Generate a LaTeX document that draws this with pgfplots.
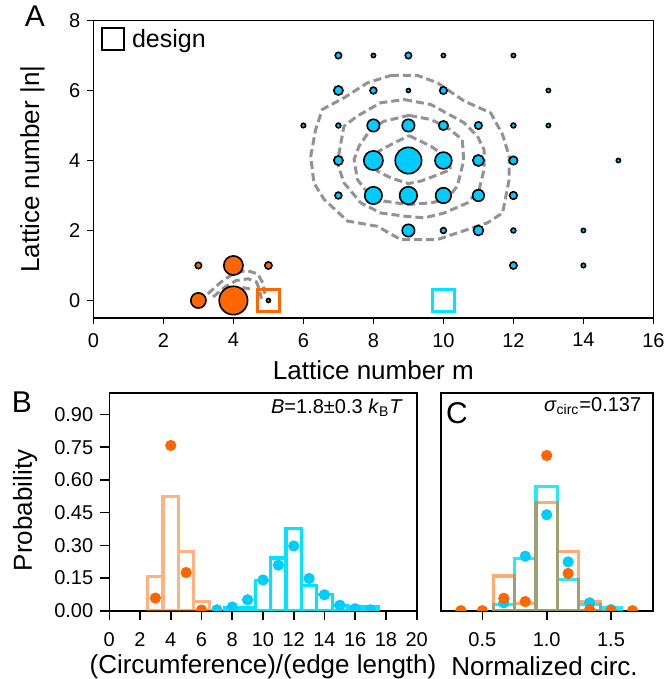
\documentclass[border=0pt]{standalone}
\usepackage{pgfplots}
\usepackage{pgfplotstable}
\pgfplotsset{compat=1.18}
\usepackage{fontspec}
\setmainfont{Liberation Sans}

\definecolor{cyanM}{RGB}{0,204,255}
\definecolor{cyanB}{RGB}{0,229,255}
\definecolor{orangeM}{RGB}{255,102,0}
\definecolor{contourgray}{RGB}{128,128,128}

% panel A: lattice points (m, n, marker radius in pt)
\pgfplotstableread{
m n r
7 7 1.6
8 7 1.05
9 7 1.6
10 7 1.05
12 7 1.05
7 6 2.3
8 6 1.7
9 6 1.0
10 6 1.85
13 6 1.05
6 5 1.1
7 5 1.2
8 5 3.1
9 5 3.1
10 5 2.35
11 5 1.85
12 5 1.2
13 5 1.05
7 4 2.3
8 4 4.8
9 4 6.6
10 4 4.2
11 4 2.8
12 4 2.1
15 4 1.05
7 3 1.7
8 3 4.35
9 3 4.4
10 3 3.9
11 3 2.9
12 3 1.9
9 2 3.1
10 2 1.45
11 2 2.5
12 2 1.2
14 2 1.05
12 1 1.8
14 1 1.1
}\cyanpts

\pgfplotstableread{
m n r
3 1 1.6
4 1 4.8
5 1 1.8
3 0 3.8
4 0 7.1
5 0 1.0
}\orangepts

% panel B: ring size histograms
\pgfplotstableread{
x p
3 0.156
4 0.523
5 0.270
6 0.042
}\orangeBbars
\pgfplotstableread{
x p
3 0.058
4 0.758
5 0.175
6 0.003
}\orangeBdots
\pgfplotstableread{
x p
8 0.012
9 0.015
10 0.138
11 0.242
12 0.376
13 0.115
14 0.073
15 0.023
16 0.017
17 0.017
}\cyanBbars
\pgfplotstableread{
x p
7 0.004
8 0.017
9 0.050
10 0.141
11 0.209
12 0.297
13 0.148
14 0.073
15 0.025
16 0.009
17 0.004
}\cyanBdots

% panel C: normalized circumference
\pgfplotstableread{
x p
0.6667 0.159
0.8333 0.032
1.0 0.497
1.1667 0.270
1.3333 0.042
}\orangeCbars
\pgfplotstableread{
x p
0.3333 0.0
0.5 0.0
0.6667 0.057
0.8333 0.042
1.0 0.712
1.1667 0.171
1.3333 0.005
1.5 0.0
1.6667 0.0
}\orangeCdots
\pgfplotstableread{
x p
0.6667 0.030
0.8333 0.240
1.0 0.568
1.1667 0.144
1.3333 0.030
1.5 0.012
}\cyanCbars
\pgfplotstableread{
x p
0.6667 0.036
0.8333 0.250
1.0 0.440
1.1667 0.224
1.3333 0.036
1.5 0.005
}\cyanCdots

\pgfplotsset{
  every axis/.append style={
    scale only axis,
    axis line style={line width=0.8pt},
    every tick/.append style={black, line width=0.8pt},
    tick align=outside,
    tick pos=left,
    /pgf/number format/assume math mode=true,
    tick label style={font=\fontsize{10}{12}\selectfont},
    label style={font=\fontsize{13}{15}\selectfont},
  },
  contourline/.style={contourgray, line width=1.5pt, dash pattern=on 4pt off 2pt, opacity=0.85},
  lattice/.style={scatter, only marks, mark=*, line width=0.8pt,
    scatter/use mapped color={draw=black, fill=#1},
    visualization depends on={\thisrow{r} \as \rad},
    scatter/@pre marker code/.append style={/tikz/mark size=\rad}},
}

\begin{document}
\begin{tikzpicture}
\path[use as bounding box] (0,0) rectangle (334pt,-339.5pt);

% ---------------- A ----------------
\begin{axis}[
  at={(46.7pt,-10.25pt)}, anchor=north west,
  width=280pt, height=148.75pt,
  xmin=0, xmax=16, ymin=-0.5, ymax=8,
  xtick={0,2,...,16}, ytick={0,2,...,8},
  major tick length=3pt,
  xticklabel style={yshift=-1pt},
  xlabel={Lattice number m},
  ylabel={Lattice number |n|},
  xlabel style={at={(axis description cs:0.5,-0.177)}, anchor=center},
  ylabel style={at={(axis description cs:-0.109,0.5)}, anchor=center},
  legend style={at={(axis description cs:0.004,1.0)}, anchor=north west,
    draw=none, fill=none, font=\fontsize{12.5}{14}\selectfont,
    /tikz/every odd column/.append style={column sep=2pt}},
  clip=false,
]
\addlegendimage{only marks, mark=square, mark size=5.5pt, black, line width=1pt}
\addlegendentry{design}

\addplot[lattice=cyanM] table[x=m, y=n, meta=r] {\cyanpts};
\addplot[lattice=orangeM] table[x=m, y=n, meta=r] {\orangepts};

% design squares
\addplot[only marks, mark=square, mark size=5.5pt, cyanB, line width=1.2pt]
  coordinates {(10,0)};
\addplot[only marks, mark=square, mark size=5.5pt, orangeM, line width=1.2pt]
  coordinates {(5,0)};

% contours around the cyan distribution
\addplot[contourline] coordinates {
(8.50,6.43) (9.26,6.43) (9.83,6.22) (10.59,5.70) (11.35,5.36) (11.69,4.74)
(11.88,4.12) (11.88,3.46) (11.69,2.50) (11.26,2.22) (10.40,1.93) (9.83,1.74)
(8.78,1.74) (8.11,2.12) (7.26,2.27) (6.59,2.89) (6.30,3.36) (6.21,4.12)
(6.35,4.89) (6.54,5.46) (7.16,5.79) (7.83,6.22) (8.50,6.43)};
\addplot[contourline] coordinates {
(8.88,5.74) (9.64,5.60) (10.59,5.08) (10.97,4.70) (11.16,4.31) (11.16,3.74)
(11.02,3.17) (10.69,2.79) (10.02,2.50) (9.45,2.36) (8.88,2.41) (8.21,2.50)
(7.64,2.79) (7.16,3.36) (6.97,3.93) (7.07,4.50) (7.16,4.98) (7.54,5.27)
(8.21,5.65) (8.88,5.74)};
\addplot[contourline] coordinates {
(9.02,5.29) (9.64,5.17) (10.10,4.95) (10.54,4.60) (10.58,4.00) (10.40,3.27)
(10.10,2.89) (9.64,2.79) (9.00,2.74) (8.30,2.84) (7.83,3.08) (7.54,3.46)
(7.45,4.03) (7.59,4.41) (7.92,4.89) (8.30,5.12) (9.02,5.29)};
\addplot[contourline] coordinates {
(9.02,4.71) (9.64,4.41) (10.11,4.08) (10.21,3.74) (9.73,3.55) (9.35,3.41)
(9.00,3.34) (8.50,3.50) (8.11,3.70) (7.92,4.03) (8.16,4.27) (8.59,4.50)
(9.02,4.71)};
% contours around the orange distribution
\addplot[contourline] coordinates {
(3.27,0.19) (3.65,0.53) (3.99,0.76) (4.37,0.86) (4.70,0.76) (4.85,0.48) (4.90,0.19)};
\addplot[contourline] coordinates {
(3.42,0.10) (3.75,0.38) (4.08,0.57) (4.42,0.62) (4.66,0.53) (4.75,0.29) (4.80,0.05)};
\addplot[contourline] coordinates {
(3.65,0.10) (3.89,0.29) (4.18,0.38) (4.47,0.33)};
\end{axis}

% ---------------- B ----------------
\begin{axis}[
  at={(54.65pt,-196.35pt)}, anchor=north west,
  width=153.7pt, height=109pt,
  xmin=0, xmax=20, ymin=0, ymax=1.0,
  xtick={0,2,...,20}, ytick={0,0.15,0.3,0.45,0.6,0.75,0.9},
  yticklabel style={/pgf/number format/.cd, fixed, fixed zerofill, precision=2},
  xticklabel style={yshift=-3pt},
  major tick length=4.5pt,
  xlabel={(Circumference)/(edge length)},
  ylabel={Probability},
  xlabel style={at={(axis description cs:0.5,-0.256)}, anchor=center},
  ylabel style={at={(axis description cs:-0.274,0.46)}, anchor=center},
  clip marker paths=true,
]
\addplot[ybar, bar width=1, bar shift=0pt, draw=cyanB, fill=none, line width=1.6pt]
  table[x=x, y=p] {\cyanBbars};
\addplot[ybar, bar width=1, bar shift=0pt, draw=orangeM, draw opacity=0.5, fill=none, line width=1.6pt]
  table[x=x, y=p] {\orangeBbars};
\addplot[only marks, mark=*, mark size=2.6pt, cyanM]
  table[x=x, y=p] {\cyanBdots};
\addplot[only marks, mark=*, mark size=2.6pt, orangeM]
  table[x=x, y=p] {\orangeBdots};
\node[anchor=east, font=\fontsize{10}{12}\selectfont] at (axis description cs:0.978,0.931)
  {\textit{B}=1.8±0.3 \textit{k}\textsubscript{B}\textit{T}};
\end{axis}

% ---------------- C ----------------
\begin{axis}[
  at={(220.35pt,-196.35pt)}, anchor=north west,
  width=106pt, height=109pt,
  xmin=0.176, xmax=1.824, ymin=0, ymax=1.0,
  xtick={0.5,1.0,1.5}, ytick=\empty,
  xticklabel style={yshift=-3pt, /pgf/number format/.cd, fixed, fixed zerofill, precision=1},
  major tick length=4.5pt,
  xlabel={Normalized circ.},
  xlabel style={at={(axis description cs:0.49,-0.256)}, anchor=center},
  clip marker paths=true,
]
\addplot[ybar, bar width=0.16667, bar shift=0pt, draw=cyanB, draw opacity=0.85, fill=none, line width=1.6pt]
  table[x=x, y=p] {\cyanCbars};
\addplot[ybar, bar width=0.16667, bar shift=0pt, draw=orangeM, draw opacity=0.55, fill=none, line width=1.6pt]
  table[x=x, y=p] {\orangeCbars};
\addplot[only marks, mark=*, mark size=2.6pt, cyanM]
  table[x=x, y=p] {\cyanCdots};
\addplot[only marks, mark=*, mark size=2.6pt, orangeM]
  table[x=x, y=p] {\orangeCdots};
\node[anchor=east, font=\fontsize{10}{12}\selectfont] at (axis description cs:0.979,0.938)
  {\textit{σ}\textsubscript{circ}=0.137};
\end{axis}

% panel letters
\node[font=\fontsize{15}{17}\selectfont] at (17.5pt,-8pt) {A};
\node[font=\fontsize{15}{17}\selectfont] at (11pt,-201pt) {B};
\node[font=\fontsize{15}{17}\selectfont] at (228.5pt,-206.6pt) {C};
\end{tikzpicture}
\end{document}
